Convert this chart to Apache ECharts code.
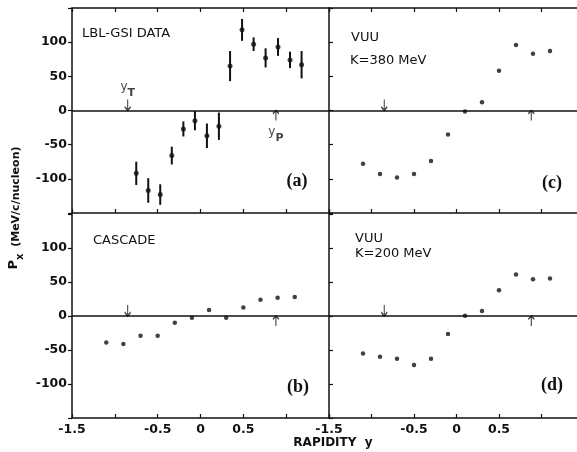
<!DOCTYPE html>
<html>
<head>
<meta charset="utf-8">
<script src="https://cdn.jsdelivr.net/npm/echarts@6/dist/echarts.min.js"></script>
<style>
  html, body { margin: 0; padding: 0; background: #fff; }
  #main { width: 577px; height: 452px; }
</style>
</head>
<body>
<div id="main"></div>
<script>
// panel (a): LBL-GSI data with error bars
var dataX = [-0.75, -0.61, -0.47, -0.335, -0.2, -0.065, 0.075, 0.215, 0.345, 0.485, 0.62, 0.76, 0.905, 1.045, 1.18];
var dataY = [-92, -117, -123, -66, -27, -15, -37, -23, 65, 118, 97, 77, 93, 74, 67];
var dataErr = [17, 18, 15, 13, 11, 14, 18, 20, 22, 16, 10, 14, 13, 12, 20];

// panels (b), (c), (d): model points on a common rapidity grid
var modelX = [-1.1, -0.9, -0.7, -0.5, -0.3, -0.1, 0.1, 0.3, 0.5, 0.7, 0.9, 1.1];
var cascadeY = [-39, -41, -29, -29, -10, -2.5, 9, -2.5, 12.5, 24, 27, 28];
var vuu380Y = [-78, -93, -98, -93, -74, -35, -1.5, 12, 58, 96, 83, 87];
var vuu200Y = [-55, -60, -63, -72, -63, -26.5, 0.5, 7.5, 38, 61, 54, 55];

// target / projectile rapidity arrows
var yTarget = -0.85;
var yProj = 0.88;

var xTickLabels = ['-1.5', '-0.5', '0', '0.5'];
var yTickLabels = ['100', '50', '0', '-50', '-100'];

var FONT = 'DejaVu Sans';
var INK = '#111';

function pairs(xs, ys) {
  return xs.map(function (x, i) { return [x, ys[i]]; });
}

var chart = echarts.init(document.getElementById('main'));

// right column runs a little past the cropped edge of the page
var grids = [
  { left: 72, top: 8, width: 257, height: 205 },    // (a)
  { left: 72, top: 214, width: 257, height: 204 },  // (b)
  { left: 329, top: 8, width: 255, height: 205 },   // (c)
  { left: 329, top: 214, width: 255, height: 204 }  // (d)
];
grids.forEach(function (g) { g.outerBoundsMode = 'none'; g.containLabel = false; });

var xAxes = [];
var yAxes = [];
grids.forEach(function (g, i) {
  var bottomRow = (i === 1 || i === 3);
  xAxes.push({
    gridIndex: i, type: 'value', min: -1.5, max: 1.5, interval: 0.5, position: 'bottom',
    axisLine: { onZero: false, lineStyle: { color: INK, width: 1.5 } },
    axisTick: { inside: true, length: 4, lineStyle: { color: INK, width: 1.2 } },
    splitLine: { show: false },
    axisLabel: {
      show: bottomRow, color: INK, fontFamily: FONT, fontSize: 12.5, fontWeight: 'bold', margin: 5,
      formatter: function (v) {
        var s = String(v);
        return xTickLabels.indexOf(s) >= 0 ? s : '';
      }
    }
  });
  if (!bottomRow) {
    xAxes.push({
      gridIndex: i, type: 'value', min: -1.5, max: 1.5, interval: 0.5, position: 'top',
      axisLine: { onZero: false, lineStyle: { color: INK, width: 1.5 } },
      axisTick: { inside: true, length: 4, lineStyle: { color: INK, width: 1.2 } },
      splitLine: { show: false },
      axisLabel: { show: false }
    });
  }
  var leftCol = (i < 2);
  yAxes.push({
    gridIndex: i, type: 'value', min: -150, max: 150, interval: 50, position: 'left',
    axisLine: { show: true, onZero: false, lineStyle: { color: INK, width: 1.5 } },
    axisTick: { show: true, inside: !leftCol, length: 4, lineStyle: { color: INK, width: 1.2 } },
    splitLine: { show: false },
    axisLabel: {
      show: leftCol, color: INK, fontFamily: FONT, fontSize: 12.5, fontWeight: 'bold', margin: 5,
      formatter: function (v) {
        var s = String(v);
        return yTickLabels.indexOf(s) >= 0 ? s : '';
      }
    }
  });
});

// x axis index of bottom axis per grid: (a)=0, (b)=2, (c)=3, (d)=5
var xIdx = [0, 2, 3, 5];

var zeroLine = {
  silent: true, symbol: 'none', label: { show: false },
  lineStyle: { color: INK, width: 1.5, type: 'solid' },
  data: [{ yAxis: 0 }]
};

var arrowDown = 'path://M3,0L3,12M0,8L3,12L6,8';
var arrowUp = 'path://M3,12L3,0M0,4L3,0L6,4';

var subRich = {
  a: { fontFamily: FONT, fontSize: 12, color: INK, lineHeight: 18, verticalAlign: 'top' },
  b: { fontFamily: FONT, fontSize: 11, fontWeight: 'bold', color: INK, lineHeight: 18, verticalAlign: 'bottom' }
};

var series = [];
[0, 1, 2, 3].forEach(function (i) {
  var labelled = (i === 0);
  series.push({
    type: 'scatter', xAxisIndex: xIdx[i], yAxisIndex: i, silent: true,
    symbol: arrowDown, symbolSize: [6, 11], symbolOffset: [0, '-50%'],
    itemStyle: { color: 'transparent', borderColor: INK, borderWidth: 1.4 },
    data: [[yTarget, 0]],
    label: { show: labelled, position: 'top', distance: 0, formatter: '{a|y}{b|T}', rich: subRich },
    markLine: zeroLine, z: 3
  });
  series.push({
    type: 'scatter', xAxisIndex: xIdx[i], yAxisIndex: i, silent: true,
    symbol: arrowUp, symbolSize: [6, 10], symbolOffset: [0, '50%'],
    itemStyle: { color: 'transparent', borderColor: INK, borderWidth: 1.4 },
    data: [[yProj, 0]],
    label: { show: labelled, position: 'bottom', distance: 4, formatter: '{a|y}{b|P}', rich: subRich },
    z: 3
  });
});

// (a) error bars
series.push({
  type: 'custom', xAxisIndex: 0, yAxisIndex: 0, silent: true,
  data: dataX.map(function (x, i) { return [x, dataY[i] - dataErr[i], dataY[i] + dataErr[i]]; }),
  encode: { x: 0, y: [1, 2] },
  renderItem: function (params, api) {
    var x = api.value(0);
    var lo = api.coord([x, api.value(1)]);
    var hi = api.coord([x, api.value(2)]);
    return {
      type: 'line',
      shape: { x1: lo[0], y1: lo[1], x2: hi[0], y2: hi[1] },
      style: { stroke: INK, lineWidth: 2 }
    };
  }
});
series.push({
  type: 'scatter', xAxisIndex: 0, yAxisIndex: 0, silent: true,
  symbolSize: 5, itemStyle: { color: INK },
  data: pairs(dataX, dataY)
});
series.push({
  type: 'scatter', xAxisIndex: 2, yAxisIndex: 1, silent: true,
  symbolSize: 4.5, itemStyle: { color: INK },
  data: pairs(modelX, cascadeY)
});
series.push({
  type: 'scatter', xAxisIndex: 3, yAxisIndex: 2, silent: true,
  symbolSize: 4.5, itemStyle: { color: INK },
  data: pairs(modelX, vuu380Y)
});
series.push({
  type: 'scatter', xAxisIndex: 5, yAxisIndex: 3, silent: true,
  symbolSize: 4.5, itemStyle: { color: INK },
  data: pairs(modelX, vuu200Y)
});

function txt(x, y, s, size, extra) {
  var style = { text: s, x: 0, y: 0, fill: INK, font: (size || 13) + 'px "' + FONT + '"', textVerticalAlign: 'middle' };
  for (var k in extra) style[k] = extra[k];
  return { type: 'text', x: x, y: y, silent: true, style: style };
}
function tag(x, y, s) {
  return { type: 'text', x: x, y: y, silent: true,
    style: { text: s, fill: INK, font: 'bold 18px "Liberation Serif"', textAlign: 'center', textVerticalAlign: 'middle' } };
}

chart.setOption({
  backgroundColor: '#fff',
  animation: false,
  grid: grids,
  xAxis: xAxes,
  yAxis: yAxes,
  series: series,
  graphic: [
    txt(82, 34, 'LBL-GSI DATA', 13),
    txt(351, 38, 'VUU', 13),
    txt(350, 61, 'K=380 MeV', 13),
    txt(93, 241, 'CASCADE', 13),
    txt(355, 239, 'VUU', 13),
    txt(355, 254, 'K=200 MeV', 13),
    tag(297, 181, '(a)'),
    tag(298, 387, '(b)'),
    tag(552, 183, '(c)'),
    tag(552, 385, '(d)'),
    txt(333, 443, 'RAPIDITY  y', 12, { textAlign: 'center', font: 'bold 12px "' + FONT + '"' }),
    {
      type: 'text', x: 16, y: 208, rotation: Math.PI / 2, silent: true,
      style: {
        text: '{p|P}{s|x}  {t|(MeV/c/nucleon)}',
        textAlign: 'center', textVerticalAlign: 'middle', fill: INK,
        rich: {
          p: { fontFamily: FONT, fontSize: 13, fontWeight: 'bold', lineHeight: 18, verticalAlign: 'top', color: INK },
          s: { fontFamily: FONT, fontSize: 10, fontWeight: 'bold', lineHeight: 18, verticalAlign: 'bottom', color: INK },
          t: { fontFamily: FONT, fontSize: 11, fontWeight: 'bold', lineHeight: 18, color: INK }
        }
      }
    }
  ]
});
</script>
</body>
</html>
